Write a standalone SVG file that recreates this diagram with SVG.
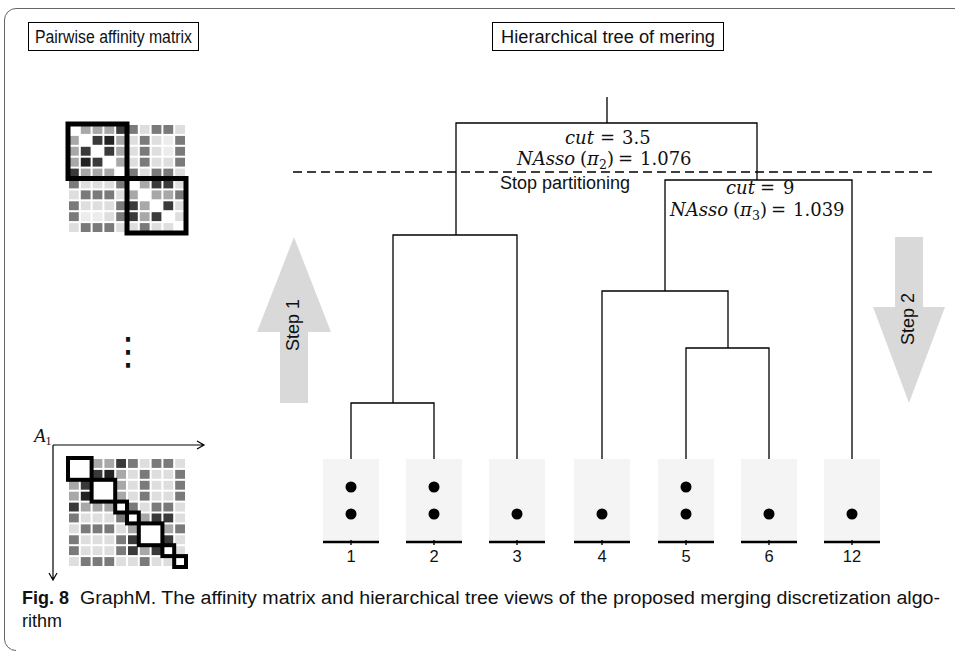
<svg xmlns="http://www.w3.org/2000/svg" xmlns:xlink="http://www.w3.org/1999/xlink" width="955" height="651" viewBox="0 0 955 651">
<style>
.sans{font-family:"Liberation Sans",Arial,sans-serif;fill:#111}
.math{font-family:"DejaVu Serif","Liberation Serif",serif;fill:#111;font-size:18px}
.it{font-style:italic}
.L{fill:#dedede}.M{fill:#a8a8a8}.D{fill:#7a7a7a}.K{fill:#3a3a3a}.X{fill:#232323}.V{fill:#ececec}
.blk{fill:none;stroke:#000;stroke-width:5}
.blk2{fill:none;stroke:#000;stroke-width:4}
.tree{fill:none;stroke:#000;stroke-width:1.3}
.leafbox{fill:#f4f4f4}
.axis{stroke:#000;stroke-width:2.6}
.tick{stroke:#000;stroke-width:1.4}
.step{fill:#d9d9d9}
.lbl{font-size:16.5px;text-anchor:middle}
</style>
<defs>
<rect id="c" width="9.8" height="8.9"/>
</defs>
<rect width="955" height="651" fill="#fff"/>
<path d="M955,8.5 H16 A11.5,11.5 0 0 0 4.5,20 V639 A11.5,11.5 0 0 0 16,650.5" fill="none" stroke="#666" stroke-width="1"/>

<g id="label-affinity">
<rect x="28.5" y="22.5" width="170" height="28" fill="#fff" stroke="#000" stroke-width="1"/>
<text class="sans" x="35" y="42.5" font-size="17.5" textLength="157" lengthAdjust="spacingAndGlyphs">Pairwise affinity matrix</text>
</g>
<g id="label-tree">
<rect x="492.5" y="22.5" width="231" height="28" fill="#fff" stroke="#000" stroke-width="1"/>
<text class="sans" x="501" y="42.5" font-size="17.5" textLength="214" lengthAdjust="spacingAndGlyphs">Hierarchical tree of mering</text>
</g>

<g id="matrix-top" transform="translate(69,125)">
<g><use href="#c" x="11.8" class="M"/><use href="#c" x="23.6" class="M"/><use href="#c" x="35.4" class="M"/><use href="#c" x="47.2" class="K"/><use href="#c" x="59" class="D"/><use href="#c" x="70.8" class="L"/><use href="#c" x="82.6" class="D"/><use href="#c" x="94.4" class="D"/><use href="#c" x="106.2" class="L"/></g>
<g transform="translate(0,10.9)"><use href="#c" x="0" class="M"/><use href="#c" x="23.6" class="K"/><use href="#c" x="35.4" class="X"/><use href="#c" x="47.2" class="M"/><use href="#c" x="59" class="L"/><use href="#c" x="70.8" class="D"/><use href="#c" x="82.6" class="L"/><use href="#c" x="94.4" class="V"/><use href="#c" x="106.2" class="D"/></g>
<g transform="translate(0,21.8)"><use href="#c" x="0" class="M"/><use href="#c" x="11.8" class="K"/><use href="#c" x="35.4" class="K"/><use href="#c" x="47.2" class="M"/><use href="#c" x="59" class="L"/><use href="#c" x="70.8" class="D"/><use href="#c" x="82.6" class="L"/><use href="#c" x="94.4" class="V"/><use href="#c" x="106.2" class="D"/></g>
<g transform="translate(0,32.7)"><use href="#c" x="0" class="M"/><use href="#c" x="11.8" class="X"/><use href="#c" x="23.6" class="K"/><use href="#c" x="47.2" class="M"/><use href="#c" x="59" class="L"/><use href="#c" x="70.8" class="D"/><use href="#c" x="82.6" class="L"/><use href="#c" x="94.4" class="L"/><use href="#c" x="106.2" class="D"/></g>
<g transform="translate(0,43.6)"><use href="#c" x="0" class="K"/><use href="#c" x="11.8" class="M"/><use href="#c" x="23.6" class="M"/><use href="#c" x="35.4" class="M"/><use href="#c" x="59" class="D"/><use href="#c" x="70.8" class="L"/><use href="#c" x="82.6" class="D"/><use href="#c" x="94.4" class="D"/><use href="#c" x="106.2" class="L"/></g>
<g transform="translate(0,54.5)"><use href="#c" x="0" class="D"/><use href="#c" x="11.8" class="L"/><use href="#c" x="23.6" class="L"/><use href="#c" x="35.4" class="L"/><use href="#c" x="47.2" class="D"/><use href="#c" x="70.8" class="M"/><use href="#c" x="82.6" class="K"/><use href="#c" x="94.4" class="K"/><use href="#c" x="106.2" class="L"/></g>
<g transform="translate(0,65.4)"><use href="#c" x="0" class="L"/><use href="#c" x="11.8" class="D"/><use href="#c" x="23.6" class="D"/><use href="#c" x="35.4" class="D"/><use href="#c" x="47.2" class="L"/><use href="#c" x="59" class="M"/><use href="#c" x="82.6" class="M"/><use href="#c" x="94.4" class="M"/><use href="#c" x="106.2" class="D"/></g>
<g transform="translate(0,76.3)"><use href="#c" x="0" class="D"/><use href="#c" x="11.8" class="L"/><use href="#c" x="23.6" class="L"/><use href="#c" x="35.4" class="L"/><use href="#c" x="47.2" class="D"/><use href="#c" x="59" class="K"/><use href="#c" x="70.8" class="M"/><use href="#c" x="94.4" class="K"/><use href="#c" x="106.2" class="L"/></g>
<g transform="translate(0,87.2)"><use href="#c" x="0" class="D"/><use href="#c" x="11.8" class="V"/><use href="#c" x="23.6" class="V"/><use href="#c" x="35.4" class="L"/><use href="#c" x="47.2" class="D"/><use href="#c" x="59" class="K"/><use href="#c" x="70.8" class="M"/><use href="#c" x="82.6" class="K"/><use href="#c" x="106.2" class="L"/></g>
<g transform="translate(0,98.1)"><use href="#c" x="0" class="L"/><use href="#c" x="11.8" class="D"/><use href="#c" x="23.6" class="D"/><use href="#c" x="35.4" class="D"/><use href="#c" x="47.2" class="L"/><use href="#c" x="59" class="L"/><use href="#c" x="70.8" class="D"/><use href="#c" x="82.6" class="L"/><use href="#c" x="94.4" class="L"/></g>
<rect class="blk" x="-1" y="-1" width="59" height="54.5"/>
<rect class="blk" x="58" y="53.5" width="59" height="54.5"/>
</g>

<text id="vdots" x="128" y="364" font-family="DejaVu Sans,sans-serif" font-size="38" text-anchor="middle" fill="#111">⋮</text>

<g id="axes">
<path d="M53,445 H204 M197,441 L204,445 L197,449 M53,445 V580 M49,573 L53,580 L57,573" fill="none" stroke="#000" stroke-width="1.2"/>
<text x="34" y="442" font-family="Liberation Serif,serif" font-style="italic" font-size="19" fill="#111">A<tspan font-style="normal" font-size="12" dy="3">1</tspan></text>
</g>

<g id="matrix-bottom" transform="translate(69,459)">
<g><use href="#c" x="23.6" class="M"/><use href="#c" x="35.4" class="M"/><use href="#c" x="47.2" class="K"/><use href="#c" x="59" class="D"/><use href="#c" x="70.8" class="L"/><use href="#c" x="82.6" class="D"/><use href="#c" x="94.4" class="D"/><use href="#c" x="106.2" class="L"/></g>
<g transform="translate(0,10.9)"><use href="#c" x="23.6" class="K"/><use href="#c" x="35.4" class="X"/><use href="#c" x="47.2" class="M"/><use href="#c" x="59" class="L"/><use href="#c" x="70.8" class="D"/><use href="#c" x="82.6" class="L"/><use href="#c" x="94.4" class="L"/><use href="#c" x="106.2" class="D"/></g>
<g transform="translate(0,21.8)"><use href="#c" x="0" class="M"/><use href="#c" x="11.8" class="K"/><use href="#c" x="47.2" class="M"/><use href="#c" x="59" class="L"/><use href="#c" x="70.8" class="D"/><use href="#c" x="82.6" class="L"/><use href="#c" x="94.4" class="L"/><use href="#c" x="106.2" class="D"/></g>
<g transform="translate(0,32.7)"><use href="#c" x="0" class="M"/><use href="#c" x="11.8" class="X"/><use href="#c" x="47.2" class="M"/><use href="#c" x="59" class="L"/><use href="#c" x="70.8" class="D"/><use href="#c" x="82.6" class="L"/><use href="#c" x="94.4" class="L"/><use href="#c" x="106.2" class="D"/></g>
<g transform="translate(0,43.6)"><use href="#c" x="0" class="K"/><use href="#c" x="11.8" class="M"/><use href="#c" x="23.6" class="M"/><use href="#c" x="35.4" class="M"/><use href="#c" x="59" class="D"/><use href="#c" x="70.8" class="L"/><use href="#c" x="82.6" class="D"/><use href="#c" x="94.4" class="D"/><use href="#c" x="106.2" class="L"/></g>
<g transform="translate(0,54.5)"><use href="#c" x="0" class="D"/><use href="#c" x="11.8" class="L"/><use href="#c" x="23.6" class="L"/><use href="#c" x="35.4" class="L"/><use href="#c" x="47.2" class="D"/><use href="#c" x="70.8" class="M"/><use href="#c" x="82.6" class="K"/><use href="#c" x="94.4" class="K"/><use href="#c" x="106.2" class="L"/></g>
<g transform="translate(0,65.4)"><use href="#c" x="0" class="L"/><use href="#c" x="11.8" class="D"/><use href="#c" x="23.6" class="D"/><use href="#c" x="35.4" class="D"/><use href="#c" x="47.2" class="L"/><use href="#c" x="59" class="M"/><use href="#c" x="94.4" class="M"/><use href="#c" x="106.2" class="D"/></g>
<g transform="translate(0,76.3)"><use href="#c" x="0" class="D"/><use href="#c" x="11.8" class="L"/><use href="#c" x="23.6" class="L"/><use href="#c" x="35.4" class="L"/><use href="#c" x="47.2" class="D"/><use href="#c" x="59" class="K"/><use href="#c" x="94.4" class="K"/><use href="#c" x="106.2" class="L"/></g>
<g transform="translate(0,87.2)"><use href="#c" x="0" class="D"/><use href="#c" x="11.8" class="L"/><use href="#c" x="23.6" class="L"/><use href="#c" x="35.4" class="L"/><use href="#c" x="47.2" class="D"/><use href="#c" x="59" class="K"/><use href="#c" x="70.8" class="M"/><use href="#c" x="82.6" class="K"/><use href="#c" x="106.2" class="L"/></g>
<g transform="translate(0,98.1)"><use href="#c" x="0" class="L"/><use href="#c" x="11.8" class="D"/><use href="#c" x="23.6" class="D"/><use href="#c" x="35.4" class="D"/><use href="#c" x="47.2" class="L"/><use href="#c" x="59" class="L"/><use href="#c" x="70.8" class="D"/><use href="#c" x="82.6" class="L"/><use href="#c" x="94.4" class="L"/></g>
<rect class="blk2" x="-1" y="-1" width="23.6" height="21.8"/>
<rect class="blk2" x="22.6" y="20.8" width="23.6" height="21.8"/>
<rect class="blk2" x="46.2" y="42.6" width="11.8" height="10.9"/>
<rect class="blk2" x="58" y="53.5" width="11.8" height="10.9"/>
<rect class="blk2" x="69.8" y="64.4" width="23.6" height="21.8"/>
<rect class="blk2" x="93.4" y="86.2" width="11.8" height="10.9"/>
<rect class="blk2" x="105.2" y="97.1" width="11.8" height="10.9"/>
</g>

<g id="step1">
<polygon class="step" points="294,237 331,332 308,332 308,403 280,403 280,332 257,332"/>
<text class="sans" font-size="18" text-anchor="middle" transform="translate(299,325) rotate(-90)">Step 1</text>
</g>
<g id="step2">
<polygon class="step" points="895,237 923,237 923,307 945,307 909,403 873,307 895,307"/>
<text class="sans" font-size="18" text-anchor="middle" transform="translate(914,319) rotate(-90)">Step 2</text>
</g>

<g id="leaves">
<g id="leaf-1"><rect class="leafbox" x="323" y="459" width="56" height="82"/><circle cx="351" cy="487" r="5.5"/><circle cx="351" cy="514" r="5.5"/><line class="axis" x1="323" y1="542" x2="379" y2="542"/><line class="tick" x1="351" y1="540" x2="351" y2="545"/><text class="sans lbl" x="351" y="562">1</text></g>
<g id="leaf-2"><rect class="leafbox" x="406" y="459" width="56" height="82"/><circle cx="434" cy="487" r="5.5"/><circle cx="434" cy="514" r="5.5"/><line class="axis" x1="406" y1="542" x2="462" y2="542"/><line class="tick" x1="434" y1="540" x2="434" y2="545"/><text class="sans lbl" x="434" y="562">2</text></g>
<g id="leaf-3"><rect class="leafbox" x="489" y="459" width="56" height="82"/><circle cx="517" cy="514" r="5.5"/><line class="axis" x1="489" y1="542" x2="545" y2="542"/><line class="tick" x1="517" y1="540" x2="517" y2="545"/><text class="sans lbl" x="517" y="562">3</text></g>
<g id="leaf-4"><rect class="leafbox" x="574" y="459" width="56" height="82"/><circle cx="602" cy="514" r="5.5"/><line class="axis" x1="574" y1="542" x2="630" y2="542"/><line class="tick" x1="602" y1="540" x2="602" y2="545"/><text class="sans lbl" x="602" y="562">4</text></g>
<g id="leaf-5"><rect class="leafbox" x="658" y="459" width="56" height="82"/><circle cx="686" cy="487" r="5.5"/><circle cx="686" cy="514" r="5.5"/><line class="axis" x1="658" y1="542" x2="714" y2="542"/><line class="tick" x1="686" y1="540" x2="686" y2="545"/><text class="sans lbl" x="686" y="562">5</text></g>
<g id="leaf-6"><rect class="leafbox" x="741" y="459" width="56" height="82"/><circle cx="769" cy="514" r="5.5"/><line class="axis" x1="741" y1="542" x2="797" y2="542"/><line class="tick" x1="769" y1="540" x2="769" y2="545"/><text class="sans lbl" x="769" y="562">6</text></g>
<g id="leaf-12"><rect class="leafbox" x="824" y="459" width="56" height="82"/><circle cx="852" cy="514" r="5.5"/><line class="axis" x1="824" y1="542" x2="880" y2="542"/><line class="tick" x1="852" y1="540" x2="852" y2="545"/><text class="sans lbl" x="852" y="562">12</text></g>
</g>

<g id="connectors">
<path class="tree" d="M607,97 V123 M456,235 V123 H757 V180 M393,403 V235 H517 V459 M351,459 V403 H434 V459 M665,291 V180 H852 V459 M602,459 V291 H728 V348 M686,459 V348 H769 V459"/>
</g>

<g id="cut-line">
<line x1="293" y1="172" x2="935" y2="172" stroke="#000" stroke-width="1.3" stroke-dasharray="9,5"/>
<text class="sans" x="500" y="189" font-size="18">Stop partitioning</text>
</g>

<g id="cut1">
<text class="math" y="144"><tspan class="it" x="565">cut</tspan><tspan x="600">=</tspan><tspan x="622">3.5</tspan></text>
<text class="math" y="165"><tspan class="it" x="517">NAsso</tspan><tspan x="580">(</tspan><tspan class="it" x="587">π</tspan><tspan x="599" y="169" font-size="12.5">2</tspan><tspan x="607" y="165">)</tspan><tspan x="618">=</tspan><tspan x="640">1.076</tspan></text>
</g>
<g id="cut2">
<text class="math" y="194"><tspan class="it" x="726">cut</tspan><tspan x="760">=</tspan><tspan x="783">9</tspan></text>
<text class="math" y="216"><tspan class="it" x="670">NAsso</tspan><tspan x="733">(</tspan><tspan class="it" x="740">π</tspan><tspan x="752" y="220" font-size="12.5">3</tspan><tspan x="760" y="216">)</tspan><tspan x="771">=</tspan><tspan x="793">1.039</tspan></text>
</g>

<g id="caption">
<text class="sans" x="22" y="604" font-size="18" font-weight="bold" fill="#222" textLength="47" lengthAdjust="spacingAndGlyphs">Fig. 8</text>
<text class="sans" x="80" y="604" font-size="18" fill="#333" textLength="860" lengthAdjust="spacingAndGlyphs">GraphM. The affinity matrix and hierarchical tree views of the proposed merging discretization algo-</text>
<text class="sans" x="22" y="627" font-size="18" fill="#333">rithm</text>
</g>
</svg>
